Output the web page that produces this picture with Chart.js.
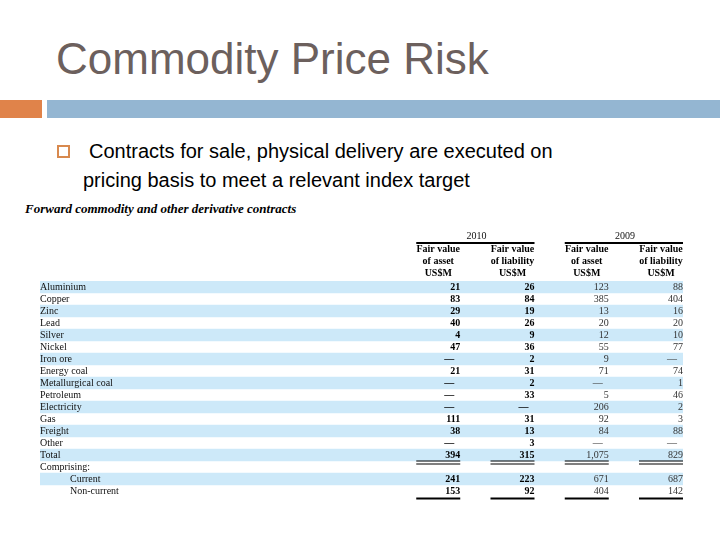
<!DOCTYPE html>
<html>
<head>
<meta charset="utf-8">
<script src="https://cdn.jsdelivr.net/npm/chart.js@4"></script>
<style>
  html, body { margin: 0; padding: 0; background: #ffffff; }
  #page { position: relative; width: 720px; height: 540px; overflow: hidden; background: #ffffff; }
  .title { position: absolute; left: 56px; top: 37px; font-family: "Liberation Sans", Arial, sans-serif; font-size: 44px; line-height: 44px; color: #6c605d; white-space: nowrap; }
  .bar-o { position: absolute; left: 0; top: 100px; width: 42px; height: 18px; background: #e0834a; }
  .bar-b { position: absolute; left: 47px; top: 100px; width: 673px; height: 18px; background: #94b6d2; }
  .bullet { position: absolute; left: 57px; top: 145px; width: 9px; height: 9px; border: 2px solid #d8894e; }
  .line { position: absolute; font-family: "Liberation Sans", Arial, sans-serif; font-size: 20px; line-height: 24px; color: #000; white-space: nowrap; }
  .sub { position: absolute; left: 25px; top: 201px; font-family: "Liberation Serif", "Times New Roman", serif; font-size: 13px; font-weight: bold; font-style: italic; color: #000; white-space: nowrap; }
  canvas { position: absolute; left: 0; top: 0; }
</style>
</head>
<body>
<div id="page">
  <div class="title">Commodity Price Risk</div>
  <div class="bar-o"></div>
  <div class="bar-b"></div>
  <div class="bullet"></div>
  <div class="line" style="left:89px; top:139px;">Contracts for sale, physical delivery are executed on</div>
  <div class="line" style="left:83px; top:168px;">pricing basis to meet a relevant index target</div>
  <div class="sub">Forward commodity and other derivative contracts</div>
  <canvas id="c" width="720" height="540"></canvas>
</div>
<script>
// ---- data ----
const rows = ['Aluminium','Copper','Zinc','Lead','Silver','Nickel','Iron ore','Energy coal','Metallurgical coal','Petroleum','Electricity','Gas','Freight','Other','Total','Comprising:','Current','Non-current'];
const indentedRows = ['Current','Non-current'];
const years = ['2010','2009'];
const columnHeaders = [
  ['Fair value','of asset','US$M'],
  ['Fair value','of liability','US$M'],
  ['Fair value','of asset','US$M'],
  ['Fair value','of liability','US$M']
];
// null = "—", '' = no value
const asset2010     = [21, 83, 29, 40, 4, 47, null, 21, null, null, null, 111, 38, null, 394, '', 241, 153];
const liability2010 = [26, 84, 19, 26, 9, 36, 2, 31, 2, 33, null, 31, 13, 3, 315, '', 223, 92];
const asset2009     = [123, 385, 13, 20, 12, 55, 9, 71, null, 5, 206, 92, 84, null, 1075, '', 671, 404];
const liability2009 = [88, 404, 16, 20, 10, 77, null, 74, 1, 46, 2, 3, 88, null, 829, '', 687, 142];

const columns = [
  { year: years[0], head: columnHeaders[0], values: asset2010, bold: true },
  { year: years[0], head: columnHeaders[1], values: liability2010, bold: true },
  { year: years[1], head: columnHeaders[2], values: asset2009, bold: false },
  { year: years[1], head: columnHeaders[3], values: liability2009, bold: false }
];

// ---- layout (scale units: column k right edge at x = k+1) ----
const X_MIN = -4.66, X_MAX = 4;
const SERIF = '"Liberation Serif", "Times New Roman", serif';

const stripeData = rows.map((r, i) => (i % 2 === 0 ? [X_MIN, X_MAX] : null));

const tablePlugin = {
  id: 'tableText',
  afterDatasetsDraw(chart) {
    const ctx = chart.ctx;
    const xs = chart.scales.x, ys = chart.scales.y;
    const top = chart.chartArea.top;
    const right = k => xs.getPixelForValue(k + 1);
    ctx.save();
    ctx.fillStyle = '#000';
    // year headers
    for (let y = 0; y < years.length; y++) {
      const k0 = y * 2, k1 = y * 2 + 1;
      const x0 = right(k0) - 44, x1 = right(k1);
      ctx.font = '10px ' + SERIF;
      ctx.textAlign = 'center';
      ctx.textBaseline = 'middle';
      ctx.fillStyle = '#111';
      ctx.fillText(years[y], (x0 + x1) / 2 + 1, top - 45);
      ctx.fillStyle = '#000';
      ctx.fillRect(x0, top - 39, x1 - x0, 2);
    }
    // column headers
    columns.forEach((col, k) => {
      ctx.font = 'bold 10px ' + SERIF;
      ctx.textAlign = 'center';
      ctx.textBaseline = 'middle';
      ctx.fillStyle = '#000';
      col.head.forEach((h, j) => ctx.fillText(h, right(k) - 22, top - 32 + j * 12.3));
    });
    // values
    columns.forEach((col, k) => {
      ctx.font = (col.bold ? 'bold ' : '') + '10px ' + SERIF;
      ctx.fillStyle = col.bold ? '#000' : '#333';
      ctx.textBaseline = 'middle';
      ctx.textAlign = 'right';
      col.values.forEach((v, i) => {
        if (v === '') return;
        const yPix = ys.getPixelForValue(i);
        if (v === null) {
          ctx.fillText('\u2014', right(k) - 6, yPix);
        } else {
          ctx.fillText(v.toLocaleString('en-US'), right(k), yPix);
        }
      });
      // underlines: double under Total, thick under last row
      const totalIdx = rows.indexOf('Total');
      const lastIdx = rows.length - 1;
      const x0 = right(k) - 44, w = 44;
      ctx.fillStyle = '#000';
      const yt = ys.getPixelForValue(totalIdx);
      ctx.fillRect(x0, yt + 5.5, w, 1);
      ctx.fillRect(x0, yt + 8.5, w, 1);
      const yl = ys.getPixelForValue(lastIdx);
      ctx.fillRect(x0, yl + 6.5, w, 2);
    });
    ctx.restore();
  }
};

new Chart(document.getElementById('c'), {
  type: 'bar',
  data: {
    labels: rows,
    datasets: [{
      data: stripeData,
      backgroundColor: '#cde9f9',
      borderWidth: 0,
      barPercentage: 1,
      categoryPercentage: 1
    }]
  },
  options: {
    indexAxis: 'y',
    responsive: false,
    animation: false,
    devicePixelRatio: 1,
    layout: { padding: { left: 40, right: 37, top: 281, bottom: 43 } },
    plugins: { legend: { display: false }, tooltip: { enabled: false }, title: { display: false } },
    scales: {
      x: { type: 'linear', min: X_MIN, max: X_MAX, display: false },
      y: {
        type: 'category',
        position: 'left',
        grid: { display: false, drawTicks: false },
        border: { display: false },
        ticks: {
          z: 1,
          mirror: true,
          padding: 0,
          autoSkip: false,
          color: '#111',
          font: { family: SERIF, size: 10 },
          callback: function (value, index) {
            const r = rows[index];
            return (indentedRows.includes(r) ? '\u2003\u2003\u2003' : '') + r;
          }
        }
      }
    }
  },
  plugins: [tablePlugin]
});
</script>
</body>
</html>
